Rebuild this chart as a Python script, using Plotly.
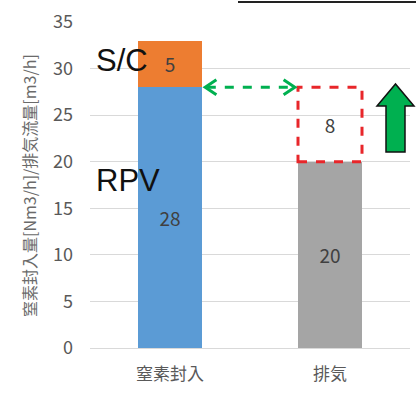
import plotly.graph_objects as go

# Categories and stacked values
categories = ["窒素封入", "排気"]
base_values = [28, 20]          # RPV injection / current exhaust
sc_values = [5, None]           # S/C injection
increase_values = [None, 8]     # required exhaust increase
base_colors = ["#5B9BD5", "#A5A5A5"]

y_ticks = [0, 5, 10, 15, 20, 25, 30, 35]
y_title = "窒素封入量[Nm3/h]/排気流量[m3/h]"

FONT = "Noto Sans CJK JP"
LABEL_COLOR = "#404040"
BAR_W = 0.4
LABEL_FONT = dict(size=19, color=LABEL_COLOR, family=FONT)

fig = go.Figure()
fig.add_trace(go.Bar(
    x=[0, 1], y=base_values, width=BAR_W,
    marker=dict(color=base_colors, line=dict(width=0)),
    text=[str(v) for v in base_values], textposition="inside",
    insidetextanchor="middle", textangle=0, textfont=LABEL_FONT,
    hoverinfo="skip",
))
fig.add_trace(go.Bar(
    x=[0, 1], y=sc_values, width=BAR_W,
    marker=dict(color="#ED7D31", line=dict(width=0)),
    text=[str(v) if v else "" for v in sc_values], textposition="inside",
    insidetextanchor="middle", textangle=0, textfont=LABEL_FONT,
    hoverinfo="skip",
))
fig.add_trace(go.Bar(
    x=[0, 1], y=increase_values, width=BAR_W,
    marker=dict(color="rgba(0,0,0,0)", line=dict(width=0)),
    text=[str(v) if v else "" for v in increase_values], textposition="inside",
    insidetextanchor="middle", textangle=0, textfont=LABEL_FONT,
    hoverinfo="skip",
))

shapes = []
# Dashed box around the required exhaust increase
inc_bottom = base_values[1]
inc_top = base_values[1] + increase_values[1]
shapes.append(dict(
    type="rect", xref="x", yref="y",
    x0=1 - BAR_W / 2, x1=1 + BAR_W / 2, y0=inc_bottom, y1=inc_top,
    line=dict(color="#E8262A", width=3, dash="dash"), fillcolor="rgba(0,0,0,0)",
))
# Green dashed double arrow at the RPV injection level
lvl = base_values[0]
xa, xb = BAR_W / 2 + 0.02, 1 - BAR_W / 2 - 0.02
shapes.append(dict(
    type="line", xref="x", yref="y", x0=xa + 0.01, x1=xb - 0.01, y0=lvl, y1=lvl,
    line=dict(color="#00B050", width=3, dash="dash"),
))
hx, hy = 0.07, 0.8
shapes.append(dict(
    type="path", xref="x", yref="y",
    path=f"M {xa + hx},{lvl + hy} L {xa},{lvl} L {xa + hx},{lvl - hy}",
    line=dict(color="#00B050", width=3),
))
shapes.append(dict(
    type="path", xref="x", yref="y",
    path=f"M {xb - hx},{lvl + hy} L {xb},{lvl} L {xb - hx},{lvl - hy}",
    line=dict(color="#00B050", width=3),
))


# Block up arrow to the right of the exhaust bar (paper coords from pixels)
def px(xp):
    return (xp - 90) / 320


def py(yp):
    return (348 - yp) / 326


arrow_pts = [(386, 152), (405, 152), (405, 106), (414, 106), (395.5, 84),
             (377, 106), (386, 106)]
arrow_path = "M " + " L ".join(f"{px(a)},{py(b)}" for a, b in arrow_pts) + " Z"
shapes.append(dict(
    type="path", xref="paper", yref="paper", path=arrow_path,
    fillcolor="#00B050", line=dict(color="#111111", width=1.5),
))
# Heading underline partly visible at the very top
shapes.append(dict(
    type="line", xref="paper", yref="paper",
    x0=px(238), x1=px(420), y0=py(2), y1=py(2),
    line=dict(color="#222222", width=2),
))

annotations = [
    dict(text="S/C", x=px(94), y=py(60), xref="paper", yref="paper",
         xanchor="left", yanchor="middle", showarrow=False,
         font=dict(size=31, color="#111111", family="Liberation Sans")),
    dict(text="RPV", x=px(94), y=py(180), xref="paper", yref="paper",
         xanchor="left", yanchor="middle", showarrow=False,
         font=dict(size=31, color="#111111", family="Liberation Sans")),
    dict(text=y_title, x=px(29), y=py(186), xref="paper", yref="paper",
         xanchor="center", yanchor="middle", showarrow=False, textangle=-90,
         font=dict(size=16, color="#6A6A6A", family=FONT)),
]

fig.update_layout(
    width=416, height=396,
    margin=dict(l=90, r=6, t=22, b=48),
    barmode="stack",
    showlegend=False,
    plot_bgcolor="white", paper_bgcolor="white",
    font=dict(family=FONT, color="#595959"),
    shapes=shapes,
    annotations=annotations,
    xaxis=dict(
        range=[-0.5, 1.5], tickmode="array", tickvals=[0, 1], ticktext=categories,
        tickfont=dict(size=17, color="#595959", family=FONT),
        showgrid=False, zeroline=False, showline=False, ticks="",
        ticklabelstandoff=14,
    ),
    yaxis=dict(
        range=[0, 35], tickvals=y_ticks,
        tickfont=dict(size=18, color="#595959", family=FONT),
        showgrid=True, gridcolor="#D9D9D9", gridwidth=1,
        zeroline=True, zerolinecolor="#D9D9D9", zerolinewidth=1,
        showline=False, ticks="", ticklabelstandoff=16,
    ),
)

fig.write_html("out.html")
